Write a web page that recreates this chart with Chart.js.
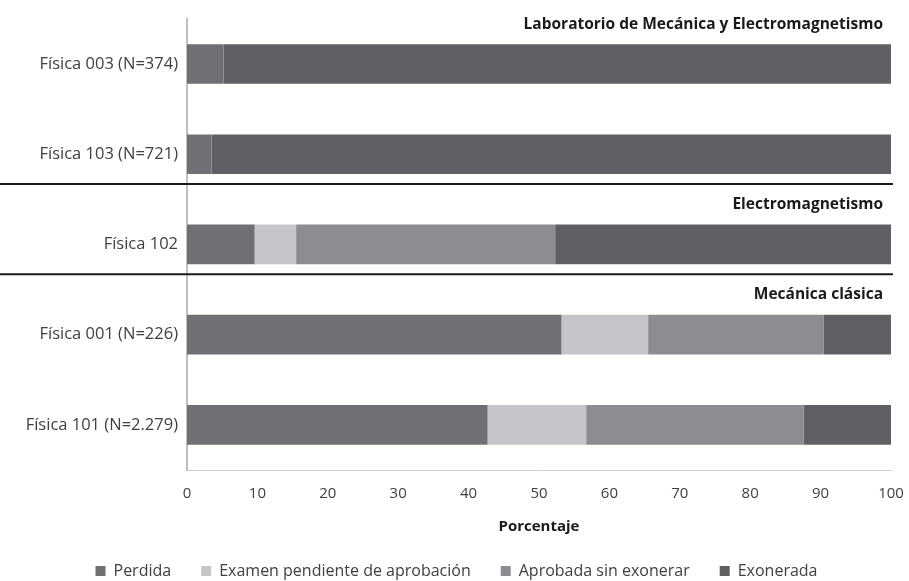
<!DOCTYPE html>
<html>
<head>
<meta charset="utf-8">
<script src="https://cdn.jsdelivr.net/npm/chart.js@4"></script>
<style>
  body { margin: 0; background: #fff; }
  #wrap { width: 909px; height: 581px; }
</style>
</head>
<body>
<div id="wrap"><canvas id="myChart"></canvas></div>
<script>
// categories and series (percent)
const cursos = ['Física 003 (N=374)', 'Física 103 (N=721)', 'Física 102', 'Física 001 (N=226)', 'Física 101 (N=2.279)'];
const perdida = [5.2, 3.5, 9.6, 53.2, 42.7];
const examenPendiente = [0, 0, 5.9, 12.3, 14.0];
const aprobadaSinExonerar = [0, 0, 36.8, 24.9, 30.9];
const exonerada = [94.8, 96.5, 47.7, 9.6, 12.4];

// section headings and where they start
const secciones = ['Laboratorio de Mecánica y Electromagnetismo', 'Electromagnetismo', 'Mecánica clásica'];
const seccionInicio = [0, 2, 3];

const FONT = "'Open Sans', sans-serif";

// draw section titles and separator lines
const seccionesPlugin = {
    id: 'secciones',
    afterDatasetsDraw(chart) {
        const ctx = chart.ctx;
        const y = chart.scales.y;
        const x = chart.scales.x;
        const step = y.getPixelForValue(1) - y.getPixelForValue(0);
        ctx.save();
        // separators between groups
        ctx.strokeStyle = '#1a1a1a';
        ctx.lineWidth = 2;
        seccionInicio.slice(1).forEach((idx) => {
            const py = y.getPixelForValue(idx - 1) + step * 0.33;
            ctx.beginPath();
            ctx.moveTo(0, py);
            ctx.lineTo(x.right + 2, py);
            ctx.stroke();
        });
        // titles
        ctx.fillStyle = '#1a1a1a';
        ctx.font = "bold 15.5px " + FONT;
        ctx.textAlign = 'right';
        ctx.textBaseline = 'middle';
        secciones.forEach((t, i) => {
            const py = y.getPixelForValue(seccionInicio[i]) - step * 0.44;
            ctx.fillText(t, x.right - 8, py);
        });
        ctx.restore();
    }
};

const ctx = document.getElementById('myChart').getContext('2d');
const myChart = new Chart(ctx, {
    type: 'bar',
    data: {
        labels: cursos,
        datasets: [
            { label: 'Perdida', data: perdida, backgroundColor: '#707074' },
            { label: 'Examen pendiente de aprobación', data: examenPendiente, backgroundColor: '#c4c5c9' },
            { label: 'Aprobada sin exonerar', data: aprobadaSinExonerar, backgroundColor: '#8c8d91' },
            { label: 'Exonerada', data: exonerada, backgroundColor: '#606064' }
        ]
    },
    options: {
        indexAxis: 'y',
        responsive: true,
        maintainAspectRatio: false,
        animation: false,
        categoryPercentage: 0.5,
        barPercentage: 0.88,
        layout: { padding: { top: 15, right: 0, left: 4, bottom: -8 } },
        scales: {
            x: {
                stacked: true,
                min: 0,
                max: 100,
                afterFit: (scale) => { scale.paddingRight = 18; },
                ticks: { stepSize: 10, color: '#404040', font: { family: FONT, size: 15 }, padding: 15 },
                grid: { display: false, drawTicks: false },
                border: { display: true, color: '#d0d0d0' },
                title: { display: true, text: 'Porcentaje', color: '#1a1a1a', font: { family: FONT, size: 15, weight: 'bold' }, padding: { top: 0, bottom: -3 } }
            },
            y: {
                stacked: true,
                afterFit: (scale) => { scale.width = 183; },
                ticks: { color: '#404040', font: { family: FONT, size: 16.5 }, padding: 9 },
                grid: { display: false, drawTicks: false },
                border: { display: true, color: '#bfbfbf', width: 2 }
            }
        },
        plugins: {
            legend: {
                position: 'bottom',
                labels: {
                    color: '#404040',
                    font: { family: FONT, size: 16 },
                    boxWidth: 10,
                    boxHeight: 10,
                    padding: 30
                }
            },
            tooltip: { enabled: false }
        }
    },
    plugins: [seccionesPlugin]
});
</script>
</body>
</html>
